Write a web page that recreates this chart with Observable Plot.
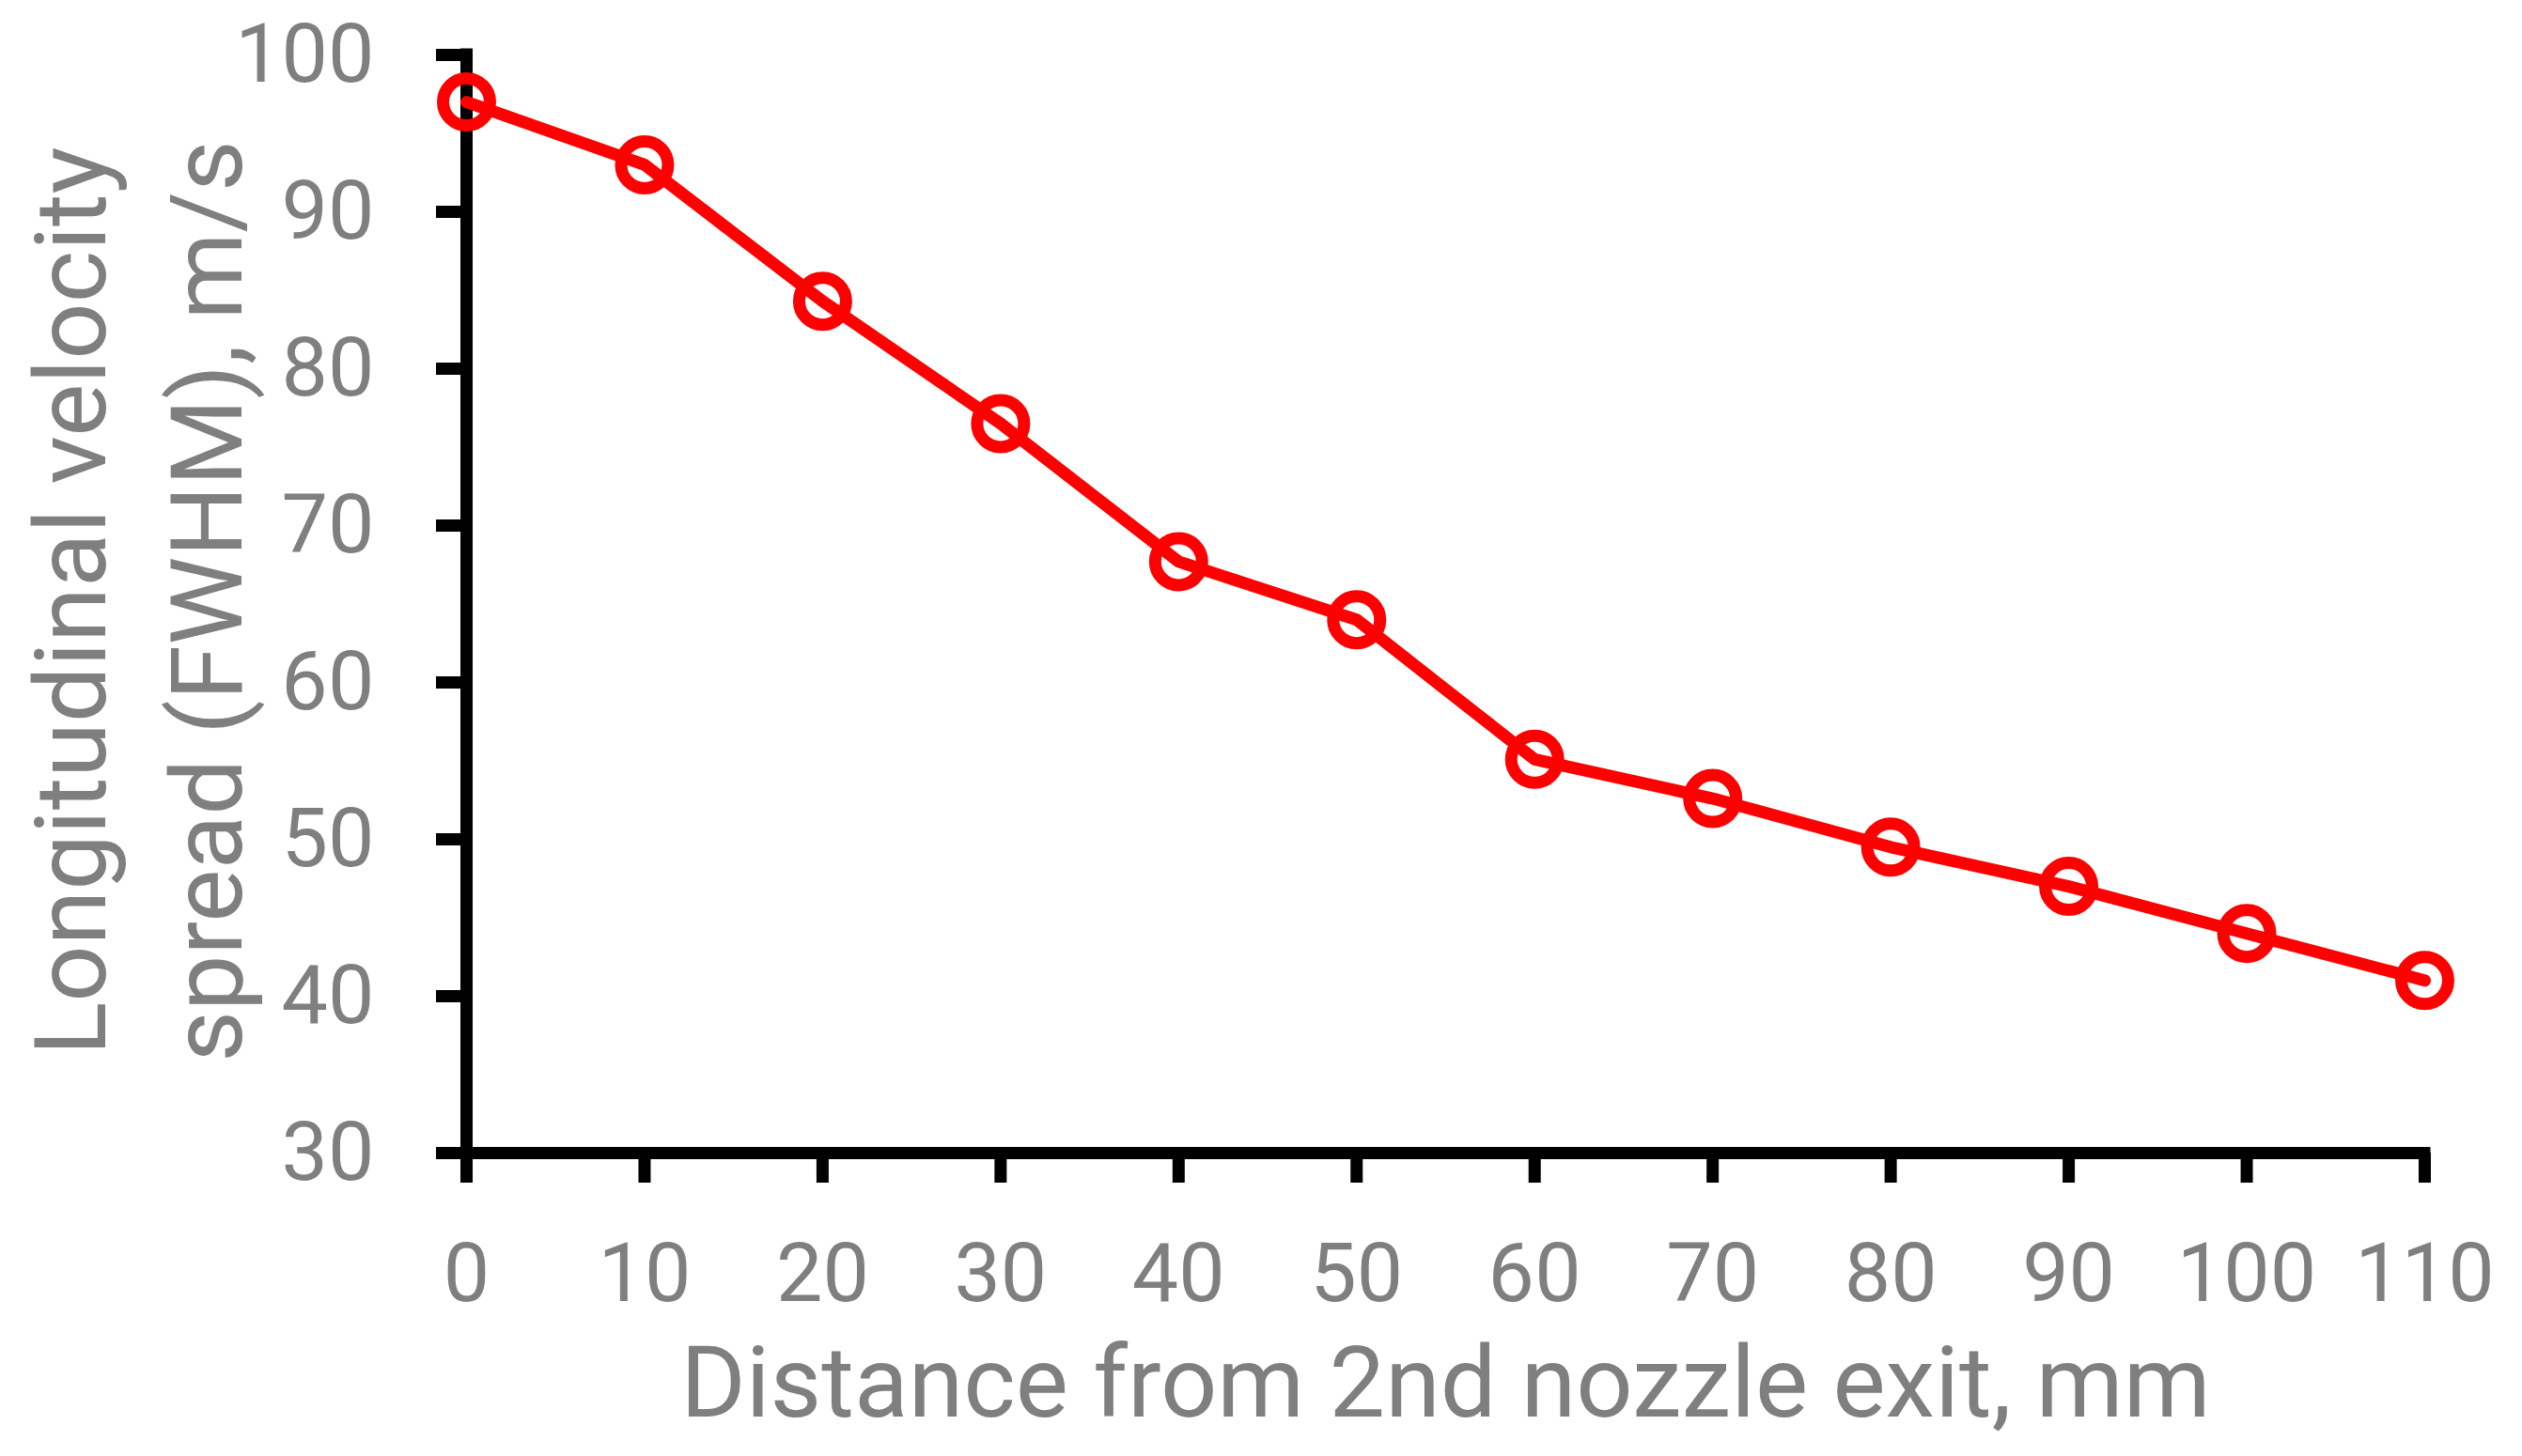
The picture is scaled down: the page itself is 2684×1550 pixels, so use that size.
<!DOCTYPE html>
<html>
<head>
<meta charset="utf-8">
<script src="https://cdn.jsdelivr.net/npm/d3@7"></script>
<script src="https://cdn.jsdelivr.net/npm/@observablehq/plot@0.6"></script>
<style>
  html, body { margin: 0; padding: 0; background: #ffffff; }
  #chart svg { display: block; }
</style>
</head>
<body>
<div id="chart"></div>
<script>
// Data
const distance = [0, 10, 20, 30, 40, 50, 60, 70, 80, 90, 100, 110];
const spread   = [97.0, 93.0, 84.3, 76.5, 67.7, 64.0, 55.1, 52.6, 49.5, 47.0, 44.0, 41.0];
const xTicks = [0, 10, 20, 30, 40, 50, 60, 70, 80, 90, 100, 110];
const yTicks = [30, 40, 50, 60, 70, 80, 90, 100];
const xTitle = ["Distance from 2nd nozzle exit, mm"];
const yTitle = ["Longitudinal velocity\nspread (FWHM), m/s"];

const rows = distance.map((d, i) => ({x: d, y: spread[i]}));

const textGray = "#7f7f7f";
const red = "#ff0000";

const chart = Plot.plot({
  width: 2684,
  height: 1550,
  marginLeft: 496,
  marginRight: 104,
  marginTop: 58,
  marginBottom: 323,
  style: {fontFamily: "Roboto, 'Open Sans', sans-serif", background: "#ffffff"},
  x: {domain: [0, 110], label: null},
  y: {domain: [30, 100], label: null},
  marks: [
    Plot.axisX({ticks: xTicks, tickSize: 32, tickPadding: 63, strokeWidth: 13, stroke: "black", fill: textGray, fontSize: 88, label: null}),
    Plot.axisY({ticks: yTicks, tickSize: 32, tickPadding: 66, strokeWidth: 13, stroke: "black", fill: textGray, fontSize: 88, label: null}),
    Plot.ruleY([30], {stroke: "black", strokeWidth: 13, strokeLinecap: "square"}),
    Plot.ruleX([0], {stroke: "black", strokeWidth: 13, strokeLinecap: "square"}),
    Plot.line(rows, {x: "x", y: "y", stroke: red, strokeWidth: 13, strokeLinejoin: "round"}),
    Plot.dot(rows, {x: "x", y: "y", r: 25, stroke: red, strokeWidth: 13, fill: "none"}),
    Plot.text(xTitle, {text: d => d, frameAnchor: "bottom", lineAnchor: "bottom", dy: 280, fontSize: 106, fill: textGray}),
    Plot.text(yTitle, {text: d => d, frameAnchor: "left", rotate: -90, textAnchor: "middle", lineAnchor: "middle", lineHeight: 1.368, dx: -358, dy: -3, fontSize: 106, fill: textGray})
  ]
});

document.getElementById("chart").appendChild(chart);
</script>
</body>
</html>
